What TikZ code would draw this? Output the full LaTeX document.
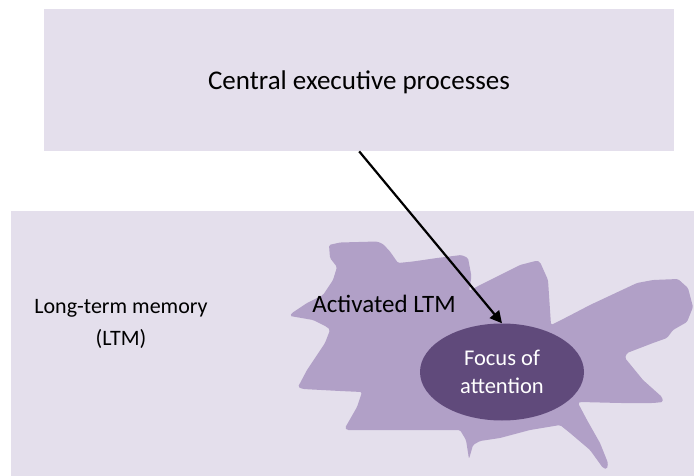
\documentclass[tikz,border=0pt]{standalone}
\usepackage{fontspec}
\setmainfont{Carlito}
\usetikzlibrary{shapes.geometric,arrows.meta}
\definecolor{paleviolet}{HTML}{E4DFEC}
\definecolor{midviolet}{HTML}{B1A0C7}
\definecolor{deepviolet}{HTML}{604A7B}
\tikzset{
  panel/.style={fill=paleviolet, draw=none, inner sep=0pt, anchor=north west},
  blobfill/.style={fill=midviolet, draw=none, rounded corners=1.5pt},
  focusnode/.style={ellipse, fill=deepviolet, draw=none, inner sep=0pt,
    minimum width=164pt, minimum height=97pt, text=white, align=center,
    font=\fontsize{22.5}{28}\selectfont},
  label/.style={text=black, align=center, inner sep=0pt},
  pointer/.style={-{Triangle[length=12pt,width=12pt]}, line width=2.2pt, black}
}
\begin{document}
\begin{tikzpicture}[x=1pt, y=-1pt]
  \useasboundingbox (0,0) rectangle (694,476);

  % central executive panel
  \node[panel, minimum width=630pt, minimum height=142pt] (cexec) at (44,9) {};
  \node[label, font=\fontsize{27}{32}\selectfont] (cexectext) at (359,82) {Central executive processes};

  % long-term memory panel
  \node[panel, minimum width=683pt, minimum height=265pt] (ltm) at (11,211) {};
  \node[label, font=\fontsize{22}{32}\selectfont] (ltmtext) at (121,324) {Long-term memory\\(LTM)};

  % activated region of long-term memory
  \path[blobfill] (329,245) -- (340,242.5) -- (377,241.5) -- (383,244) -- (390,251.5)
    -- (398,263) -- (413,261.5) -- (437,258) -- (461.5,255) -- (468,258)
    -- (471.5,276.5) -- (469,291) -- (480,285) -- (520,265) -- (536.7,260.7)
    -- (540,262) -- (548,280) -- (551,325) -- (567,317) -- (590,305)
    -- (637,283) -- (653,280) -- (678,279) -- (688,288) -- (693,307)
    -- (687,322) -- (673,330) -- (667,338) -- (653,343) -- (627,353)
    -- (625,358) -- (643,380) -- (662,397) -- (663,402) -- (653,403)
    -- (620,403) -- (580,402) -- (578,403) -- (587,420) -- (600,443)
    -- (608,463) -- (607,469) -- (603,468) -- (590,450) -- (570,433)
    -- (560,425) -- (530,430) -- (500,438) -- (480,441) -- (473,445)
    -- (469,459) -- (466,440) -- (460,430) -- (380,430) -- (347,430)
    -- (345,428) -- (357,407) -- (362,392) -- (340,391) -- (303,389)
    -- (298,387) -- (307,370) -- (317,355) -- (325,343) -- (330,330)
    -- (327,327) -- (313,320) -- (290,316) -- (292,313) -- (307,303)
    -- (323,295) -- (333,280) -- (337,267) -- (330,258) -- cycle;
  \node[label, font=\fontsize{25}{30}\selectfont] (acttext) at (384,304) {Activated LTM};

  % focus of attention
  \node[focusnode] (focus) at (502,372) {Focus of\\attention};

  % control from the central executive
  \draw[pointer] (cexec.south) -- (focus.north);
\end{tikzpicture}
\end{document}
